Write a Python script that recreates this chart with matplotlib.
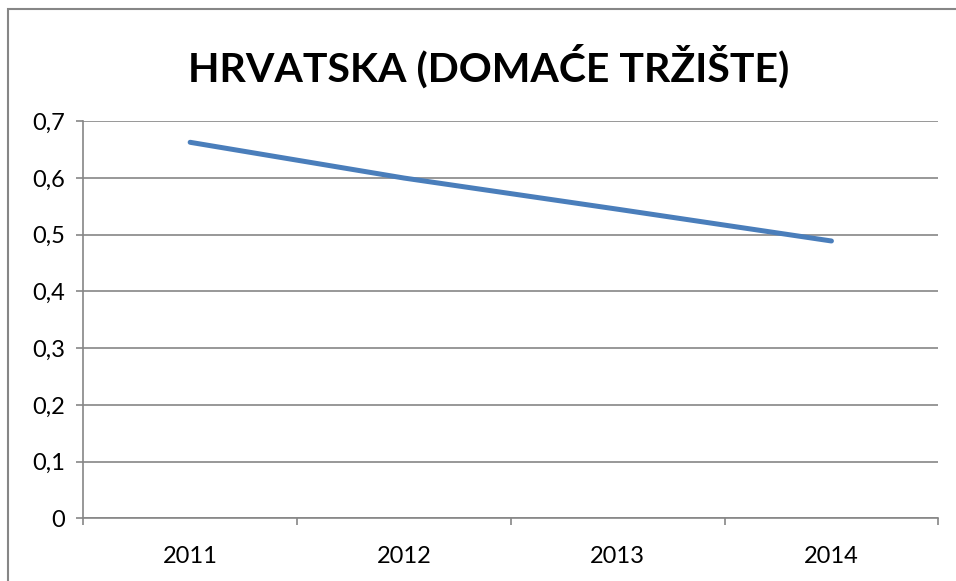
import numpy as np
import matplotlib.pyplot as plt
from matplotlib.ticker import FuncFormatter, FixedLocator
from matplotlib.patches import Rectangle

years = ['2011', '2012', '2013', '2014']
values = [0.663, 0.600, 0.545, 0.489]

plt.rcParams['font.family'] = ['Lato', 'DejaVu Sans']

fig = plt.figure(figsize=(9.56, 5.81), dpi=100)
ax = fig.add_axes([0.0871, 0.1079, 0.8944, 0.6833])

x = np.arange(len(years))
ax.plot(x, values, color='#4A7EBB', linewidth=3.6, solid_capstyle='round')

ax.set_xlim(-0.5, len(years) - 0.5)
ax.set_ylim(0, 0.7)
ax.set_yticks(np.arange(0, 0.71, 0.1))
ax.yaxis.set_major_formatter(FuncFormatter(lambda v, p: '0' if abs(v) < 1e-9 else f'{v:.1f}'.replace('.', ',')))

ax.set_xticks(x)
ax.set_xticklabels(years)
ax.xaxis.set_minor_locator(FixedLocator(np.arange(-0.5, len(years), 1.0)))

grid_col = '#868686'
ax.grid(axis='y', color=grid_col, linewidth=1.2)
ax.set_axisbelow(True)
for s in ['top', 'right']:
    ax.spines[s].set_visible(False)
for s in ['left', 'bottom']:
    ax.spines[s].set_color(grid_col)
    ax.spines[s].set_linewidth(1.2)

ax.tick_params(axis='y', length=5, width=1.2, color=grid_col, pad=8, labelsize=17)
ax.tick_params(axis='x', which='major', length=0, pad=20, labelsize=17)
ax.tick_params(axis='x', which='minor', length=5, width=1.2, color=grid_col)

fig.text(0.511, 0.886, 'HRVATSKA (DOMAĆE TRŽIŠTE)', ha='center', va='center',
         fontsize=29.5, fontweight='bold')

fig.patches.append(Rectangle((8 / 956, -0.1), 1.2, 1.1 - 9 / 581, transform=fig.transFigure,
                             fill=False, edgecolor='#868686', linewidth=1.5))

fig.savefig('out.png', dpi=100)
